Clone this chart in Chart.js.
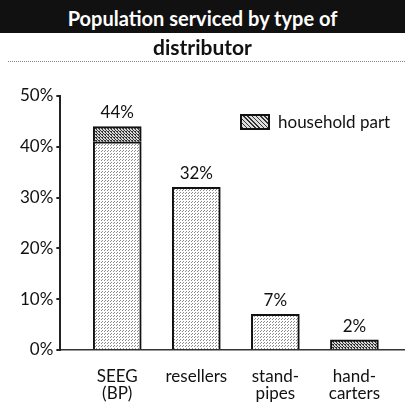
<!DOCTYPE html>
<html>
<head>
<meta charset="utf-8">
<script src="https://cdn.jsdelivr.net/npm/chart.js@4/dist/chart.umd.min.js"></script>
<style>
  body { margin: 0; background: #fff; font-family: Lato, sans-serif; }
  .wrap { position: relative; width: 405px; height: 406px; overflow: hidden; }
  .title-band {
    position: absolute; left: 0; top: 0; width: 405px; height: 33px;
    background: #111; color: #fff; font-weight: bold; font-size: 20px;
    text-align: center; line-height: 36px;
  }
  .title-line2 {
    position: absolute; left: 0; top: 34px; width: 405px;
    text-align: center; font-weight: bold; font-size: 21px; color: #111; line-height: 26px;
  }
  .title-rule { position: absolute; left: 8px; right: 0; top: 61px; border-top: 1px dotted #888; }
  .legend-container { position: absolute; left: 240px; top: 111px; }
  .legend-item { display: flex; align-items: center; font-size: 17px; color: #111; }
  .legend-square { display: inline-block; width: 26px; height: 12px; border: 2px solid #111; margin-right: 8px; }
</style>
</head>
<body>
<div class="wrap">
  <canvas id="distChart" width="405" height="406"></canvas>
  <div class="title-band">Population serviced by type of</div>
  <div class="title-line2">distributor</div>
  <div class="title-rule"></div>
  <div class="legend-container"></div>
</div>
<script>
// Population serviced, share by type of distributor (%)
const categories = [['SEEG', '(BP)'], 'resellers', ['stand-', 'pipes'], ['hand-', 'carters']];
const otherPart = [41, 32, 7, 0];
const householdPart = [3, 0, 0, 2];
const yTicks = [0, 10, 20, 30, 40, 50];

function makePattern(bg, dot, size, dots) {
    const c = document.createElement('canvas');
    c.width = size; c.height = size;
    const g = c.getContext('2d');
    g.fillStyle = bg;
    g.fillRect(0, 0, size, size);
    g.fillStyle = dot;
    dots.forEach(p => g.fillRect(p[0], p[1], 1, 1));
    return g.createPattern(c, 'repeat');
}

const ctx = document.getElementById('distChart').getContext('2d');
const lightFill = makePattern('#ffffff', '#8a8a8a', 3, [[0, 0], [2, 1]]);
const darkFill = makePattern('#d8d8d8', '#333333', 3, [[0, 0], [1, 1], [2, 2], [0, 2]]);

// percentage label on top of each bar
const totalLabels = {
    id: 'totalLabels',
    afterDatasetsDraw(chart) {
        const c = chart.ctx;
        c.save();
        c.font = '17px Lato, sans-serif';
        c.fillStyle = '#111';
        c.textAlign = 'center';
        c.textBaseline = 'bottom';
        categories.forEach((cat, i) => {
            const total = otherPart[i] + householdPart[i];
            const x = chart.scales.x.getPixelForValue(i);
            const y = chart.scales.y.getPixelForValue(total);
            c.fillText(total + '%', x, y - 5);
        });
        c.restore();
    }
};

const myChart = new Chart(ctx, {
    type: 'bar',
    data: {
        datasets: [{
            label: 'other',
            data: otherPart.map((v, i) => ({ x: i, y: v || null })),
            backgroundColor: lightFill,
            borderColor: '#111',
            borderWidth: 2,
            borderSkipped: 'bottom',
            barThickness: 48
        }, {
            label: 'household part',
            data: householdPart.map((v, i) => ({ x: i, y: v || null })),
            backgroundColor: darkFill,
            borderColor: '#111',
            borderWidth: 2,
            borderSkipped: 'bottom',
            barThickness: 48
        }]
    },
    options: {
        responsive: false,
        animation: false,
        layout: { padding: { top: 96, left: 17, right: 0, bottom: 0 } },
        plugins: {
            legend: { display: false },
            tooltip: { enabled: false }
        },
        scales: {
            x: {
                type: 'linear',
                bounds: 'data',
                offset: false,
                stacked: true,
                min: -0.72,
                max: 3.64,
                grid: { display: false, drawTicks: false },
                border: { display: true, color: '#333', width: 1.5, dash: [3, 2] },
                ticks: {
                    stepSize: 1,
                    includeBounds: false,
                    padding: 18,
                    color: '#111',
                    font: { family: 'Lato, sans-serif', size: 17, lineHeight: 1.0 },
                    callback: v => Number.isInteger(v) && categories[v] !== undefined ? categories[v] : ''
                },
                afterBuildTicks: axis => {
                    axis.ticks = categories.map((c, i) => ({ value: i }));
                },
                afterFit: axis => { axis.height = 56; }
            },
            y: {
                stacked: true,
                min: 0,
                max: 50,
                grid: { drawOnChartArea: false, tickLength: 4, color: '#222', lineWidth: 2 },
                border: { display: true, color: '#222', width: 2 },
                ticks: {
                    stepSize: 10,
                    padding: 3,
                    color: '#111',
                    font: { family: 'Lato, sans-serif', size: 17 },
                    callback: v => yTicks.includes(v) ? v + '%' : ''
                }
            }
        }
    },
    plugins: [totalLabels]
});

// HTML legend, built from the chart's datasets
const legendContainer = document.querySelector('.legend-container');
const hh = myChart.data.datasets[1];
const legendItem = document.createElement('div');
legendItem.classList.add('legend-item');
legendItem.innerHTML = `<span class="legend-square" style="background-image:repeating-linear-gradient(45deg,#333 0 1px,#ddd 1px 3px)"></span>${hh.label}`;
legendContainer.appendChild(legendItem);
</script>
</body>
</html>
